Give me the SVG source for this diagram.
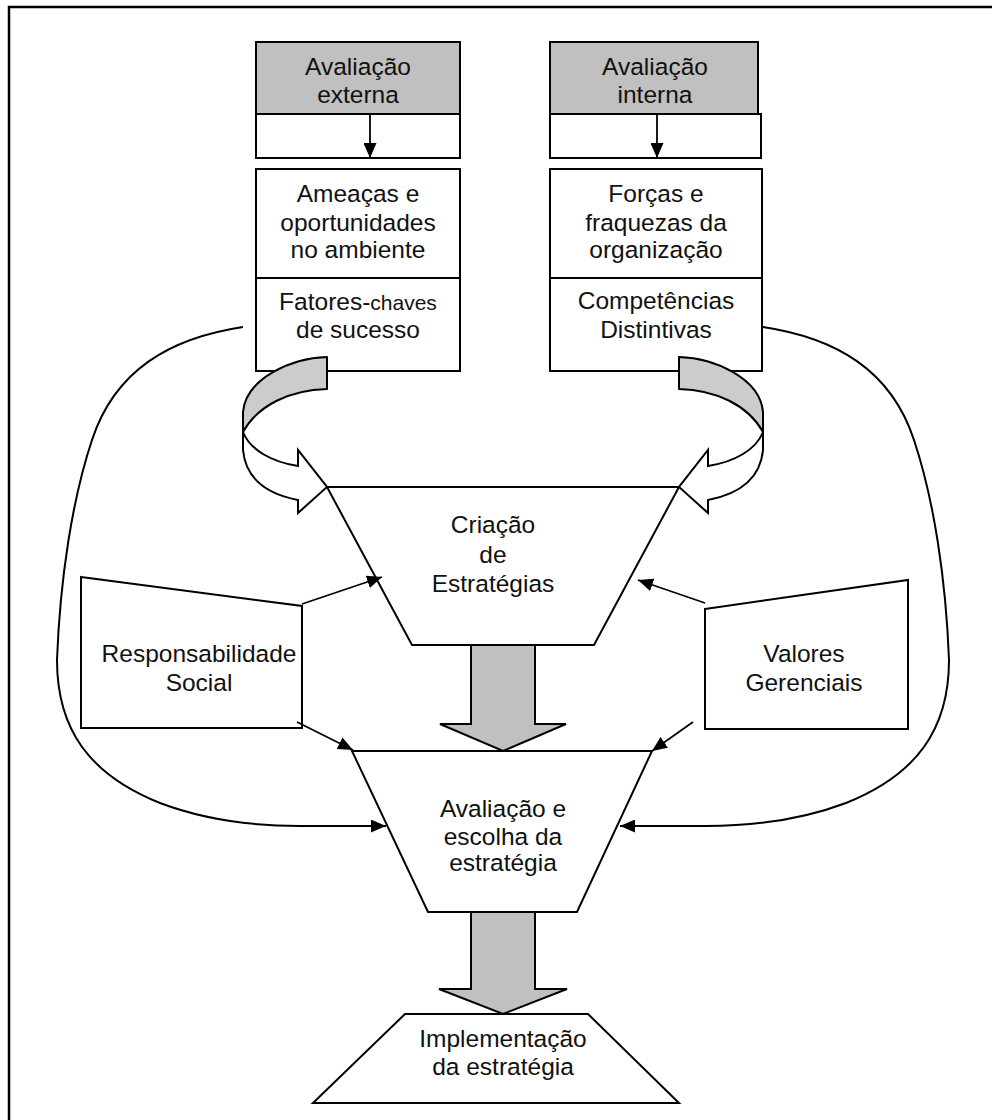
<svg xmlns="http://www.w3.org/2000/svg" width="992" height="1120" viewBox="0 0 992 1120">
  <style>
    .frame { fill: none; stroke: #000; stroke-width: 2.5; }
    .box { fill: #fff; stroke: #000; stroke-width: 2; }
    .head { fill: #c0c0c0; stroke: #000; stroke-width: 2; }
    .curl { fill: #cccccc; stroke: #000; stroke-width: 2; stroke-linejoin: round; }
    .curlw { fill: #fff; stroke: #000; stroke-width: 2; stroke-linejoin: miter; }
    .big { fill: #c0c0c0; stroke: #000; stroke-width: 2; }
    .line { fill: none; stroke: #000; stroke-width: 2; }
    .conn { fill: none; stroke: #000; stroke-width: 1.8; marker-end: url(#tri); }
    text { font-family: "Liberation Sans", Arial, sans-serif; font-size: 24.5px; fill: #111; text-anchor: middle; }
    .small { font-size: 21px; }
  </style>
  <defs>
    <marker id="tri" markerUnits="userSpaceOnUse" markerWidth="15" markerHeight="13" refX="15" refY="6.5" orient="auto">
      <path d="M0,0 L15,6.5 L0,13 Z" fill="#000"/>
    </marker>
    <!-- curled arrow: grey back face and white front face with head -->
    <g id="curlArrow">
      <path class="curl" d="M327,357 C292,358 246,378 243,412 L243,432 C258,405 290,390 327,389 Z"/>
      <path class="curlw" d="M243,412 L243,450 C246,482 272,495 298,500 L298,513 L327,487 L298,450 L298,466 C272,462 250,450 243,432 Z"/>
    </g>
  </defs>

  <rect width="992" height="1120" fill="#fff"/>
  <rect class="frame" x="9" y="7" width="1000" height="1200"/>

  <!-- external assessment column -->
  <g id="ext-eval">
    <rect class="head" x="256" y="42" width="204" height="72"/>
    <rect class="box" x="256" y="114" width="204" height="44"/>
    <text x="358" y="75">Avaliação</text>
    <text x="358" y="103">externa</text>
  </g>
  <g id="threats">
    <rect class="box" x="256" y="169" width="204" height="202"/>
    <line class="line" x1="256" y1="278" x2="460" y2="278"/>
    <text x="358" y="202">Ameaças e</text>
    <text x="358" y="231">oportunidades</text>
    <text x="358" y="258">no ambiente</text>
    <text x="358" y="310">Fatores-<tspan class="small">chaves</tspan></text>
    <text x="358" y="338">de sucesso</text>
  </g>

  <!-- internal assessment column -->
  <g id="int-eval">
    <rect class="head" x="550" y="42" width="208" height="72"/>
    <rect class="box" x="550" y="114" width="211" height="44"/>
    <text x="655" y="75">Avaliação</text>
    <text x="655" y="103">interna</text>
  </g>
  <g id="strengths">
    <rect class="box" x="550" y="169" width="212" height="202"/>
    <line class="line" x1="550" y1="278" x2="762" y2="278"/>
    <text x="656" y="202">Forças e</text>
    <text x="656" y="231">fraquezas da</text>
    <text x="656" y="258">organização</text>
    <text x="656" y="309">Competências</text>
    <text x="656" y="338">Distintivas</text>
  </g>

  <!-- strategy creation funnel -->
  <g id="creation">
    <polygon class="box" points="327,487 679,487 594,645 412,645"/>
    <text x="493" y="533">Criação</text>
    <text x="493" y="563">de</text>
    <text x="493" y="592">Estratégias</text>
  </g>

  <!-- evaluation and choice funnel -->
  <g id="choice">
    <polygon class="box" points="352,751 652,751 577,912 428,912"/>
    <text x="503" y="817">Avaliação e</text>
    <text x="503" y="845">escolha da</text>
    <text x="503" y="871">estratégia</text>
  </g>

  <!-- implementation base -->
  <g id="implementation">
    <polygon class="box" points="405,1014 588,1014 679,1103 313,1103"/>
    <text x="503" y="1047">Implementação</text>
    <text x="503" y="1075">da estratégia</text>
  </g>

  <!-- side influences -->
  <g id="social">
    <polygon class="box" points="81,577 302,606 302,728 81,728"/>
    <text x="199" y="662">Responsabilidade</text>
    <text x="199" y="691">Social</text>
  </g>
  <g id="values">
    <polygon class="box" points="705,609 908,580 908,729 705,729"/>
    <text x="804" y="662">Valores</text>
    <text x="804" y="691">Gerenciais</text>
  </g>

  <!-- connectors -->
  <g id="connectors">
    <line class="conn" x1="370" y1="114" x2="370" y2="158"/>
    <line class="conn" x1="657" y1="114" x2="657" y2="158"/>

    <use href="#curlArrow"/>
    <use href="#curlArrow" transform="translate(1006,0) scale(-1,1)"/>

    <path class="big" d="M471,645 L535,645 L535,724 L566,724 L503,751 L440,724 L471,724 Z"/>
    <path class="big" d="M471,912 L535,912 L535,989 L567,989 L503,1014 L439,989 L471,989 Z"/>

    <line class="conn" x1="302" y1="604" x2="382" y2="577"/>
    <line class="conn" x1="297" y1="722" x2="353" y2="750"/>
    <line class="conn" x1="705" y1="603" x2="638" y2="580"/>
    <line class="conn" x1="693" y1="722" x2="652" y2="751"/>

    <path class="line" d="M243,327 C170,338 115,370 92,440 C72,500 60,580 57,660 C57,730 90,775 160,803 C205,820 250,826 300,826"/>
    <line class="conn" x1="300" y1="826" x2="386" y2="826"/>
    <path class="line" d="M763,327 C836,338 891,370 914,440 C934,500 946,580 949,660 C949,730 916,775 846,803 C801,820 756,826 706,826"/>
    <line class="conn" x1="706" y1="826" x2="620" y2="826"/>
  </g>
</svg>
